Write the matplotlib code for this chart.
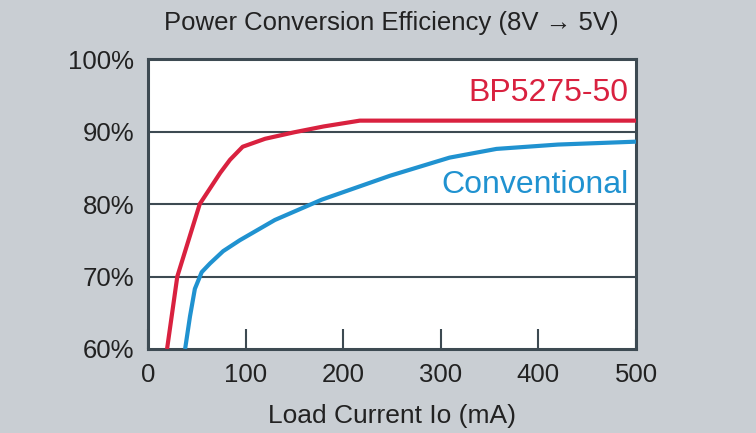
#!/usr/bin/env python3
# coding: utf-8
"""Eficiencia de conversao: BP5275-50 vs conventional (8V -> 5V)."""

import matplotlib
matplotlib.use("Agg")
import matplotlib.pyplot as plt

# dados (mA, %)
bp_current = [19.5, 30, 53, 74, 84, 97, 120, 150, 180, 217, 500]
bp_eff = [60.0, 70.0, 80.0, 84.3, 86.1, 87.9, 89.0, 89.9, 90.7, 91.5, 91.5]

conv_current = [38, 43, 48, 55, 63.5, 77, 94, 130, 178, 248, 309, 357, 420, 500]
conv_eff = [60.0, 64.5, 68.3, 70.6, 71.8, 73.5, 75.0, 77.8, 80.6, 83.9, 86.4, 87.6, 88.2, 88.6]

x_ticks = [0, 100, 200, 300, 400, 500]
y_ticks = [60, 70, 80, 90, 100]
y_labels = ["60%", "70%", "80%", "90%", "100%"]

BG = "#c9ced3"
DARK = "#3d4a52"
RED = "#d9213f"
BLUE = "#2092d0"
FONT = ["Liberation Sans", "DejaVu Sans"]

plt.rcParams["font.family"] = FONT

fig = plt.figure(figsize=(7.56, 4.33), dpi=100, facecolor=BG)
ax = fig.add_axes([0.1958, 0.194, 0.6455, 0.6697])
ax.set_facecolor("white")

ax.plot(bp_current, bp_eff, color=RED, lw=3.0, solid_capstyle="butt", zorder=3)
ax.plot(conv_current, conv_eff, color=BLUE, lw=3.0, solid_capstyle="butt", zorder=3)

ax.set_xlim(0, 500)
ax.set_ylim(60, 100)

ax.set_xticks(x_ticks)
ax.set_yticks(y_ticks)
ax.set_yticklabels(y_labels)
ax.tick_params(axis="x", direction="in", length=14.5, width=1.5, color=DARK,
               labelsize=18.5, pad=10, labelcolor="#222222")
ax.tick_params(axis="y", length=0, labelsize=18.5, pad=10, labelcolor="#222222")

for yv in [70, 80, 90]:
    ax.axhline(yv, color=DARK, lw=1.5, zorder=2)

for s in ax.spines.values():
    s.set_color(DARK)
    s.set_linewidth(2.2)

ax.text(492, 94.2, "BP5275-50", ha="right", va="baseline", fontsize=23, color=RED)
ax.text(492, 81.5, "Conventional", ha="right", va="baseline", fontsize=23, color=BLUE)

fig.text(0.517, 0.948, "Power Conversion Efficiency (8V \u2192 5V)", ha="center",
         va="center", fontsize=18.5, color="#222222")
ax.set_xlabel("Load Current Io (mA)", fontsize=19, color="#222222", labelpad=12)

fig.savefig("out.png", dpi=100, facecolor=BG)
plt.close(fig)
